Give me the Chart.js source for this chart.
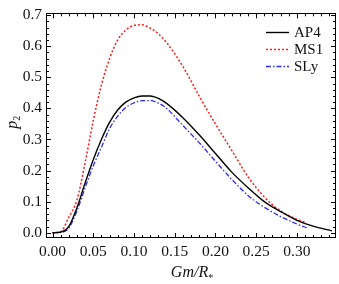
<!DOCTYPE html>
<html>
<head>
<meta charset="utf-8">
<script src="https://cdn.jsdelivr.net/npm/chart.js@4/dist/chart.umd.min.js"></script>
<style>
html, body { margin: 0; padding: 0; background: #fff; }
</style>
</head>
<body>
<canvas id="chart" width="339" height="284"></canvas>
<script>
// compactness Gm/R* on x, p2 on y
const ap4X = [0, 0.01, 0.02, 0.03, 0.04, 0.05, 0.06, 0.07, 0.08, 0.09, 0.10, 0.11, 0.12, 0.13, 0.14, 0.16, 0.18, 0.20, 0.22, 0.24, 0.26, 0.28, 0.30, 0.32, 0.343];
const ap4Y = [0, 0.002, 0.02, 0.08, 0.16, 0.235, 0.30, 0.355, 0.395, 0.42, 0.434, 0.44, 0.44, 0.432, 0.416, 0.37, 0.315, 0.255, 0.195, 0.145, 0.10, 0.068, 0.04, 0.021, 0.006];

const ms1X = [0, 0.01, 0.02, 0.03, 0.04, 0.05, 0.06, 0.07, 0.08, 0.09, 0.10, 0.11, 0.12, 0.13, 0.14, 0.16, 0.18, 0.20, 0.22, 0.24, 0.26, 0.28, 0.30, 0.312];
const ms1Y = [0, 0.003, 0.05, 0.105, 0.225, 0.36, 0.475, 0.56, 0.62, 0.652, 0.667, 0.669, 0.658, 0.64, 0.612, 0.535, 0.44, 0.35, 0.265, 0.18, 0.115, 0.07, 0.043, 0.032];

const slyX = [0, 0.01, 0.02, 0.03, 0.04, 0.05, 0.06, 0.07, 0.08, 0.09, 0.10, 0.11, 0.12, 0.13, 0.14, 0.16, 0.18, 0.20, 0.22, 0.24, 0.26, 0.28, 0.30, 0.313];
const slyY = [0, 0.001, 0.015, 0.07, 0.145, 0.215, 0.275, 0.335, 0.375, 0.403, 0.418, 0.425, 0.425, 0.417, 0.4, 0.345, 0.29, 0.23, 0.172, 0.12, 0.082, 0.052, 0.028, 0.015];

const xTicks = [0, 0.05, 0.10, 0.15, 0.20, 0.25, 0.30];
const yTicks = [0, 0.1, 0.2, 0.3, 0.4, 0.5, 0.6, 0.7];
const xMinorStep = 0.01;
const yMinorStep = 0.02;

const serif = "'Liberation Serif', 'Times New Roman', serif";

function toPoints(xs, ys) {
    return xs.map((x, i) => ({ x: x, y: ys[i] }));
}

// frame with inward ticks on all four sides, plus axis titles and legend
const framePlugin = {
    id: 'frame',
    afterDraw(chart) {
        const ctx = chart.ctx;
        const a = chart.chartArea;
        const xs = chart.scales.x;
        const ys = chart.scales.y;
        ctx.save();
        ctx.strokeStyle = '#000';
        ctx.lineWidth = 1;
        ctx.strokeRect(Math.round(a.left) + 0.5, Math.round(a.top) + 0.5,
            Math.round(a.right - a.left) - 1, Math.round(a.bottom - a.top) - 1);

        function xTick(v, len) {
            const px = Math.round(xs.getPixelForValue(v)) + 0.5;
            ctx.beginPath();
            ctx.moveTo(px, a.bottom); ctx.lineTo(px, a.bottom - len);
            ctx.moveTo(px, a.top); ctx.lineTo(px, a.top + len);
            ctx.stroke();
        }
        function yTick(v, len) {
            const py = Math.round(ys.getPixelForValue(v)) + 0.5;
            ctx.beginPath();
            ctx.moveTo(a.left, py); ctx.lineTo(a.left + len, py);
            ctx.moveTo(a.right, py); ctx.lineTo(a.right - len, py);
            ctx.stroke();
        }
        for (let v = 0; v <= xs.max + 1e-9; v += xMinorStep) xTick(v, 3);
        xTicks.forEach(v => xTick(v, 5));
        for (let v = 0; v <= ys.max + 1e-9; v += yMinorStep) yTick(v, 3);
        yTicks.forEach(v => yTick(v, 5));

        // axis titles
        ctx.fillStyle = '#111';
        ctx.textBaseline = 'alphabetic';
        ctx.font = "italic 16px " + serif;
        const main = 'Gm/R';
        const w1 = ctx.measureText(main).width;
        ctx.font = "italic 10px " + serif;
        const w2 = ctx.measureText('*').width;
        const cx = (a.left + a.right) / 2 + 1;
        const tx = cx - (w1 + w2) / 2;
        ctx.font = "italic 16px " + serif;
        ctx.fillText(main, tx, 277);
        ctx.font = "10px " + serif;
        ctx.fillText('*', tx + w1, 281);

        ctx.save();
        ctx.translate(17, (a.top + a.bottom) / 2 - 4);
        ctx.rotate(-Math.PI / 2);
        ctx.font = "italic 16px " + serif;
        const wp = ctx.measureText('p').width;
        ctx.fillText('p', -wp / 2 - 3, 0);
        ctx.font = "10px " + serif;
        ctx.fillText('2', wp / 2 - 3, 3);
        ctx.restore();

        // legend
        const lx = a.right - 70;
        const ly = a.top + 18.5;
        ctx.font = "15px " + serif;
        ctx.textBaseline = 'middle';
        chart.data.datasets.forEach((ds, i) => {
            const y = Math.round(ly + i * 17) + 0.5;
            ctx.save();
            ctx.strokeStyle = ds.borderColor;
            ctx.lineWidth = ds.borderWidth;
            ctx.setLineDash(ds.borderDash || []);
            ctx.beginPath();
            ctx.moveTo(lx, y);
            ctx.lineTo(lx + 23, y);
            ctx.stroke();
            ctx.restore();
            ctx.fillText(ds.label, lx + 28, y + 1);
        });
        ctx.restore();
    }
};

new Chart(document.getElementById('chart'), {
    type: 'scatter',
    data: {
        datasets: [
            {
                label: 'AP4',
                data: toPoints(ap4X, ap4Y),
                borderColor: '#000000',
                borderWidth: 1.4,
                showLine: true,
                pointRadius: 0,
                cubicInterpolationMode: 'monotone'
            },
            {
                label: 'MS1',
                data: toPoints(ms1X, ms1Y),
                borderColor: '#ff1a1a',
                borderWidth: 1.5,
                borderDash: [2, 2],
                showLine: true,
                pointRadius: 0,
                cubicInterpolationMode: 'monotone'
            },
            {
                label: 'SLy',
                data: toPoints(slyX, slyY),
                borderColor: '#2a2aff',
                borderWidth: 1.3,
                borderDash: [5, 2, 1.5, 2],
                showLine: true,
                pointRadius: 0,
                cubicInterpolationMode: 'monotone'
            }
        ]
    },
    options: {
        responsive: false,
        animation: false,
        layout: { padding: { top: 5, right: 3, left: 0, bottom: 0 } },
        plugins: {
            legend: { display: false },
            tooltip: { enabled: false }
        },
        scales: {
            x: {
                type: 'linear',
                min: -0.008,
                max: 0.348,
                afterBuildTicks: s => { s.ticks = xTicks.map(v => ({ value: v })); },
                afterFit: s => { s.height = 46; },
                grid: { display: false, drawTicks: false },
                border: { display: false },
                ticks: {
                    padding: 5,
                    color: '#111',
                    font: { family: serif, size: 15.5 },
                    maxRotation: 0,
                    callback: v => v.toFixed(2)
                }
            },
            y: {
                type: 'linear',
                min: -0.017,
                max: 0.706,
                afterBuildTicks: s => { s.ticks = yTicks.map(v => ({ value: v })); },
                afterFit: s => { s.width = 46; },
                grid: { display: false, drawTicks: false },
                border: { display: false },
                ticks: {
                    padding: 4,
                    color: '#111',
                    font: { family: serif, size: 15.5 },
                    callback: v => v.toFixed(1)
                }
            }
        }
    },
    plugins: [framePlugin]
});
</script>
</body>
</html>
